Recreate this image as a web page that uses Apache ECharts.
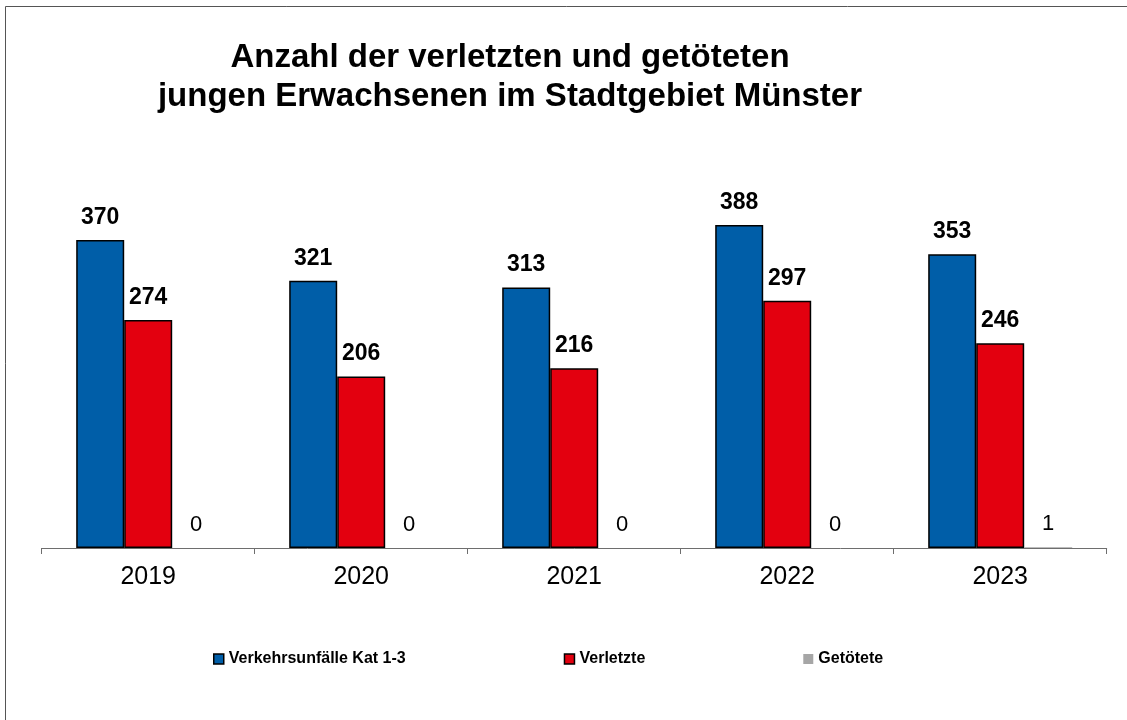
<!DOCTYPE html>
<html>
<head>
<meta charset="utf-8">
<script src="https://cdn.jsdelivr.net/npm/echarts@6/dist/echarts.min.js"></script>
<style>
  html, body { margin: 0; padding: 0; background: #fff; }
  #stat { width: 1127px; height: 720px; }
</style>
</head>
<body>
<div id="stat"></div>
<script>
const dom = document.querySelector('#stat')
const years = ['2019', '2020', '2021', '2022', '2023']
const seriesNames = ['Verkehrsunfälle Kat 1-3', 'Verletzte', 'Getötete']
const unfaelle = [370, 321, 313, 388, 353]
const verletzte = [274, 206, 216, 297, 246]
const getoetete = [0, 0, 0, 0, 1]
const colors = ['#005EA8', '#E3000F', '#A6A6A6']

const fontFamily = '"Liberation Sans", Arial, sans-serif'

// bold value labels for the first two series, normal for the third
const boldLabel = {
  show: true,
  position: 'top',
  distance: 11,
  color: '#000',
  fontFamily: fontFamily,
  fontWeight: 'bold',
  fontSize: 23
}

const chart = echarts.init(dom)
chart.setOption({
  animation: false,
  textStyle: { fontFamily: fontFamily },
  graphic: [{
    type: 'rect',
    shape: { x: 5.5, y: 6.5, width: 1200, height: 800 },
    style: { fill: 'none', stroke: '#555', lineWidth: 1 },
    z: -1
  }],
  title: {
    text: 'Anzahl der verletzten und getöteten\njungen Erwachsenen im Stadtgebiet Münster',
    left: 505,
    top: 33,
    textAlign: 'center',
    textStyle: {
      color: '#000',
      fontFamily: fontFamily,
      fontWeight: 'bold',
      fontSize: 33,
      lineHeight: 39
    }
  },
  legend: {
    data: seriesNames,
    left: 208,
    top: 646,
    itemWidth: 10,
    itemHeight: 10,
    itemGap: 158,
    icon: 'rect',
    itemStyle: { borderWidth: 1.5 },
    textStyle: {
      color: '#000',
      fontFamily: fontFamily,
      fontWeight: 'bold',
      fontSize: 16
    }
  },
  grid: {
    left: 41.7,
    right: 20.3,
    top: 215,
    bottom: 172,
    containLabel: false
  },
  xAxis: {
    type: 'category',
    data: years,
    axisLine: { lineStyle: { color: '#6e6e6e', width: 1 } },
    axisTick: { show: true, length: 6, lineStyle: { color: '#6e6e6e' } },
    axisLabel: {
      color: '#000',
      fontFamily: fontFamily,
      fontSize: 25,
      margin: 17
    }
  },
  yAxis: {
    type: 'value',
    min: 0,
    max: 400,
    show: false,
    splitLine: { show: false }
  },
  series: [
    {
      name: seriesNames[0],
      type: 'bar',
      data: unfaelle,
      barWidth: 48,
      barGap: '0%',
      itemStyle: { color: colors[0], borderColor: '#000', borderWidth: 1.5 },
      label: boldLabel
    },
    {
      name: seriesNames[1],
      type: 'bar',
      data: verletzte,
      barWidth: 48,
      barGap: '0%',
      itemStyle: { color: colors[1], borderColor: '#000', borderWidth: 1.5 },
      label: boldLabel
    },
    {
      name: seriesNames[2],
      type: 'bar',
      data: getoetete,
      barWidth: 48,
      barGap: '0%',
      itemStyle: { color: colors[2], borderWidth: 0 },
      label: {
        show: true,
        position: 'top',
        distance: 12,
        color: '#000',
        fontFamily: fontFamily,
        fontSize: 22
      }
    }
  ]
})
</script>
</body>
</html>
